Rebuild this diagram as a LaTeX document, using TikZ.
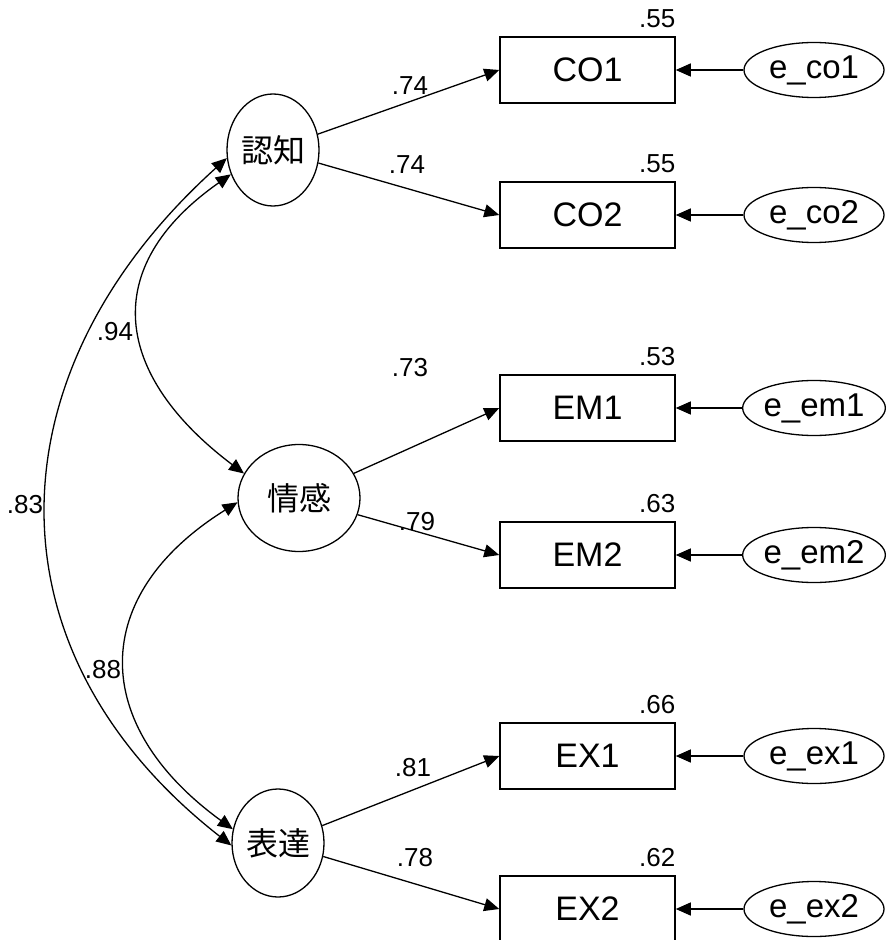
\documentclass[tikz,border=0pt]{standalone}
\usepackage{fontspec}
\setmainfont{Liberation Sans}
\newfontfamily\jpfont{Noto Sans CJK JP}
\usetikzlibrary{arrows.meta,positioning,shapes.geometric}

\begin{document}
\begin{tikzpicture}[x=0.5pt,y=-0.5pt,
    obs/.style={draw,line width=0.75pt,minimum width=87.5pt,minimum height=33pt,
                inner sep=0pt,font=\fontsize{17}{20}\selectfont},
    lat/.style={draw,ellipse,line width=0.65pt,inner sep=0pt,
                font=\jpfont\fontsize{16}{19}\selectfont},
    err/.style={draw,ellipse,line width=0.65pt,minimum width=70pt,minimum height=27.5pt,
                inner sep=0pt,font=\fontsize{16.5}{19}\selectfont},
    num/.style={inner sep=0pt,font=\fontsize{13}{15}\selectfont},
    loading/.style={line width=0.65pt,-{Triangle[length=7.5pt,width=6.5pt]}},
    covar/.style={line width=0.65pt,
                  {Triangle[length=7.5pt,width=6.5pt]}-{Triangle[length=7.5pt,width=6.5pt]}}]
  \useasboundingbox (0,0) rectangle (895,940);

  %% latent factors
  \node[lat,minimum width=46pt,minimum height=56pt] (cog) at (273,150) {認知};
  \node[lat,minimum width=61pt,minimum height=53.5pt] (emo) at (299,498) {情感};
  \node[lat,minimum width=46pt,minimum height=54pt] (exp) at (278,843) {表達};

  %% observed variables
  \node[obs] (co1) at (587.5,70) {CO1};
  \node[obs] (co2) at (587.5,215) {CO2};
  \node[obs] (em1) at (587.5,408) {EM1};
  \node[obs] (em2) at (587.5,555) {EM2};
  \node[obs] (ex1) at (587.5,756) {EX1};
  \node[obs] (ex2) at (587.5,909) {EX2};

  %% error terms
  \node[err] (eco1) at (814,70) {e\_co1};
  \node[err] (eco2) at (814,215) {e\_co2};
  \node[err] (eem1) at (814,408) {e\_em1};
  \node[err] (eem2) at (814,555) {e\_em2};
  \node[err] (eex1) at (814,756) {e\_ex1};
  \node[err] (eex2) at (814,909) {e\_ex2};

  %% squared multiple correlations
  \node[num,anchor=south east] (rco1) at ([yshift=4pt]co1.north east) {.55};
  \node[num,anchor=south east] (rco2) at ([yshift=4pt]co2.north east) {.55};
  \node[num,anchor=south east] (rem1) at ([yshift=4pt]em1.north east) {.53};
  \node[num,anchor=south east] (rem2) at ([yshift=4pt]em2.north east) {.63};
  \node[num,anchor=south east] (rex1) at ([yshift=4pt]ex1.north east) {.66};
  \node[num,anchor=south east] (rex2) at ([yshift=4pt]ex2.north east) {.62};

  %% factor loadings
  \draw[loading] (cog) -- (co1.west);
  \draw[loading] (cog) -- (co2.west);
  \draw[loading] (emo) -- (em1.west);
  \draw[loading] (emo) -- (em2.west);
  \draw[loading] (exp) -- (ex1.west);
  \draw[loading] (exp) -- (ex2.west);
  \node[num] (lco1) at (410,86) {.74};
  \node[num] (lco2) at (407,165) {.74};
  \node[num] (lem1) at (410,368) {.73};
  \node[num] (lem2) at (417,522) {.79};
  \node[num] (lex1) at (413,768) {.81};
  \node[num] (lex2) at (415,858) {.78};

  %% errors
  \foreach \e/\v in {eco1/co1,eco2/co2,eem1/em1,eem2/em2,eex1/ex1,eex2/ex2}
    \draw[loading] (\e) -- (\v);

  %% correlations
  \draw[covar] (cog.210) to[out=215,in=143,looseness=1.39] (emo.156);
  \draw[covar] (cog.190) to[out=222,in=142,looseness=1.18] (exp.183);
  \draw[covar] (emo.184) to[out=212,in=144,looseness=1.38] (exp.163);
  \node[num] (rce) at (115,332) {.94};
  \node[num] (rcx) at (25,505) {.83};
  \node[num] (rex) at (103,670) {.88};
\end{tikzpicture}
\end{document}
